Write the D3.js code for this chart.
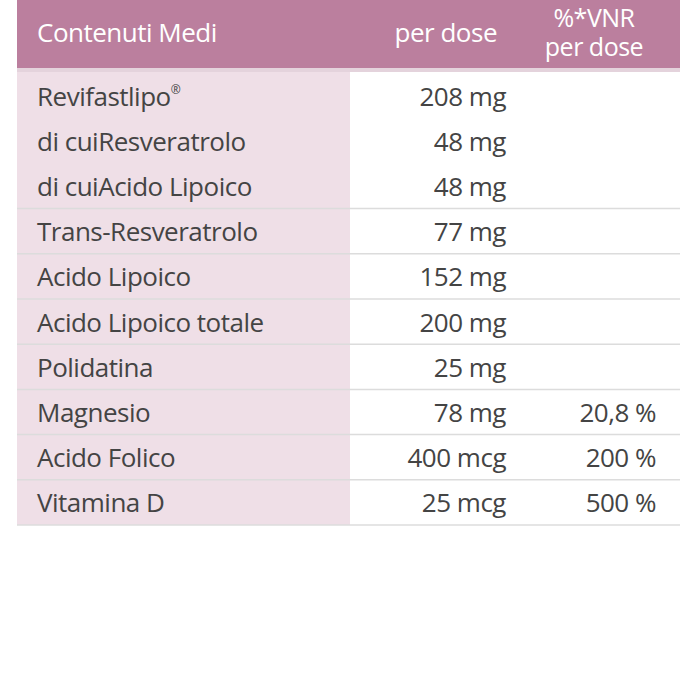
<!DOCTYPE html>
<html><head><meta charset="utf-8">
<script src="https://cdn.jsdelivr.net/npm/d3@7"></script>
<style>body{margin:0;background:#fff}text{font-family:"Open Sans",sans-serif}</style>
</head><body><svg width="700" height="700"></svg>
<script>
const names = ["Revifastlipo", "di cuiResveratrolo", "di cuiAcido Lipoico", "Trans-Resveratrolo", "Acido Lipoico", "Acido Lipoico totale", "Polidatina", "Magnesio", "Acido Folico", "Vitamina D"]
const doses = ["208 mg", "48 mg", "48 mg", "77 mg", "152 mg", "200 mg", "25 mg", "78 mg", "400 mcg", "25 mcg"]
const vnr = ["", "", "", "", "", "", "", "20,8 %", "200 %", "500 %"]
// group id per row: first three lines belong together
const groups = [0, 0, 0, 1, 2, 3, 4, 5, 6, 7]

const svg = d3.select('svg')
const left = 17, right = 680, split = 350

const y = d3.scaleBand()
  .domain(d3.range(names.length))
  .range([73, 525])

// header
svg.append('rect').attr('x', left).attr('y', 0).attr('width', right - left).attr('height', 68).attr('fill', '#bb7f9e')
svg.append('rect').attr('x', left).attr('y', 68).attr('width', right - left).attr('height', 4).attr('fill', '#e4d3dc')

// left column background
svg.append('rect').attr('x', left).attr('y', 72).attr('width', split - left).attr('height', 525 - 72).attr('fill', '#efdfe7')

const head = svg.append('g').attr('fill', '#fff').attr('font-size', 26).attr('letter-spacing', -0.5)
head.append('text').attr('x', 37).attr('y', 42).text('Contenuti Medi')
head.append('text').attr('x', 497).attr('y', 42).attr('text-anchor', 'end').text('per dose')
head.append('text').attr('x', 594).attr('y', 27).attr('text-anchor', 'middle').attr('font-size', 25).text('%*VNR')
head.append('text').attr('x', 594).attr('y', 56).attr('text-anchor', 'middle').attr('font-size', 25).text('per dose')

// separators between groups
const seps = d3.range(1, names.length).filter(i => groups[i] !== groups[i - 1])
svg.selectAll('.sep').data(seps).enter().append('line')
  .attr('x1', left).attr('x2', right)
  .attr('y1', i => y(i)).attr('y2', i => y(i))
  .attr('stroke', '#dcdcdc').attr('stroke-width', 1.5)
svg.append('line').attr('x1', left).attr('x2', right).attr('y1', 525).attr('y2', 525)
  .attr('stroke', '#dcdcdc').attr('stroke-width', 1.5)

const rows = svg.selectAll('.row').data(names).enter().append('g')
  .attr('transform', (d, i) => `translate(0, ${y(i) + y.bandwidth() / 2 + 10})`)
  .attr('fill', '#444').attr('font-size', 26).attr('letter-spacing', -0.5)
const nm = rows.append('text').attr('x', 37).text(d => d)
nm.filter((d, i) => i === 0).append('tspan').attr('font-size', 12).attr('dy', -12).text('\u00AE')
rows.append('text').attr('x', 506).attr('text-anchor', 'end').text((d, i) => doses[i])
rows.append('text').attr('x', 656).attr('text-anchor', 'end').text((d, i) => vnr[i])
</script></body></html>
